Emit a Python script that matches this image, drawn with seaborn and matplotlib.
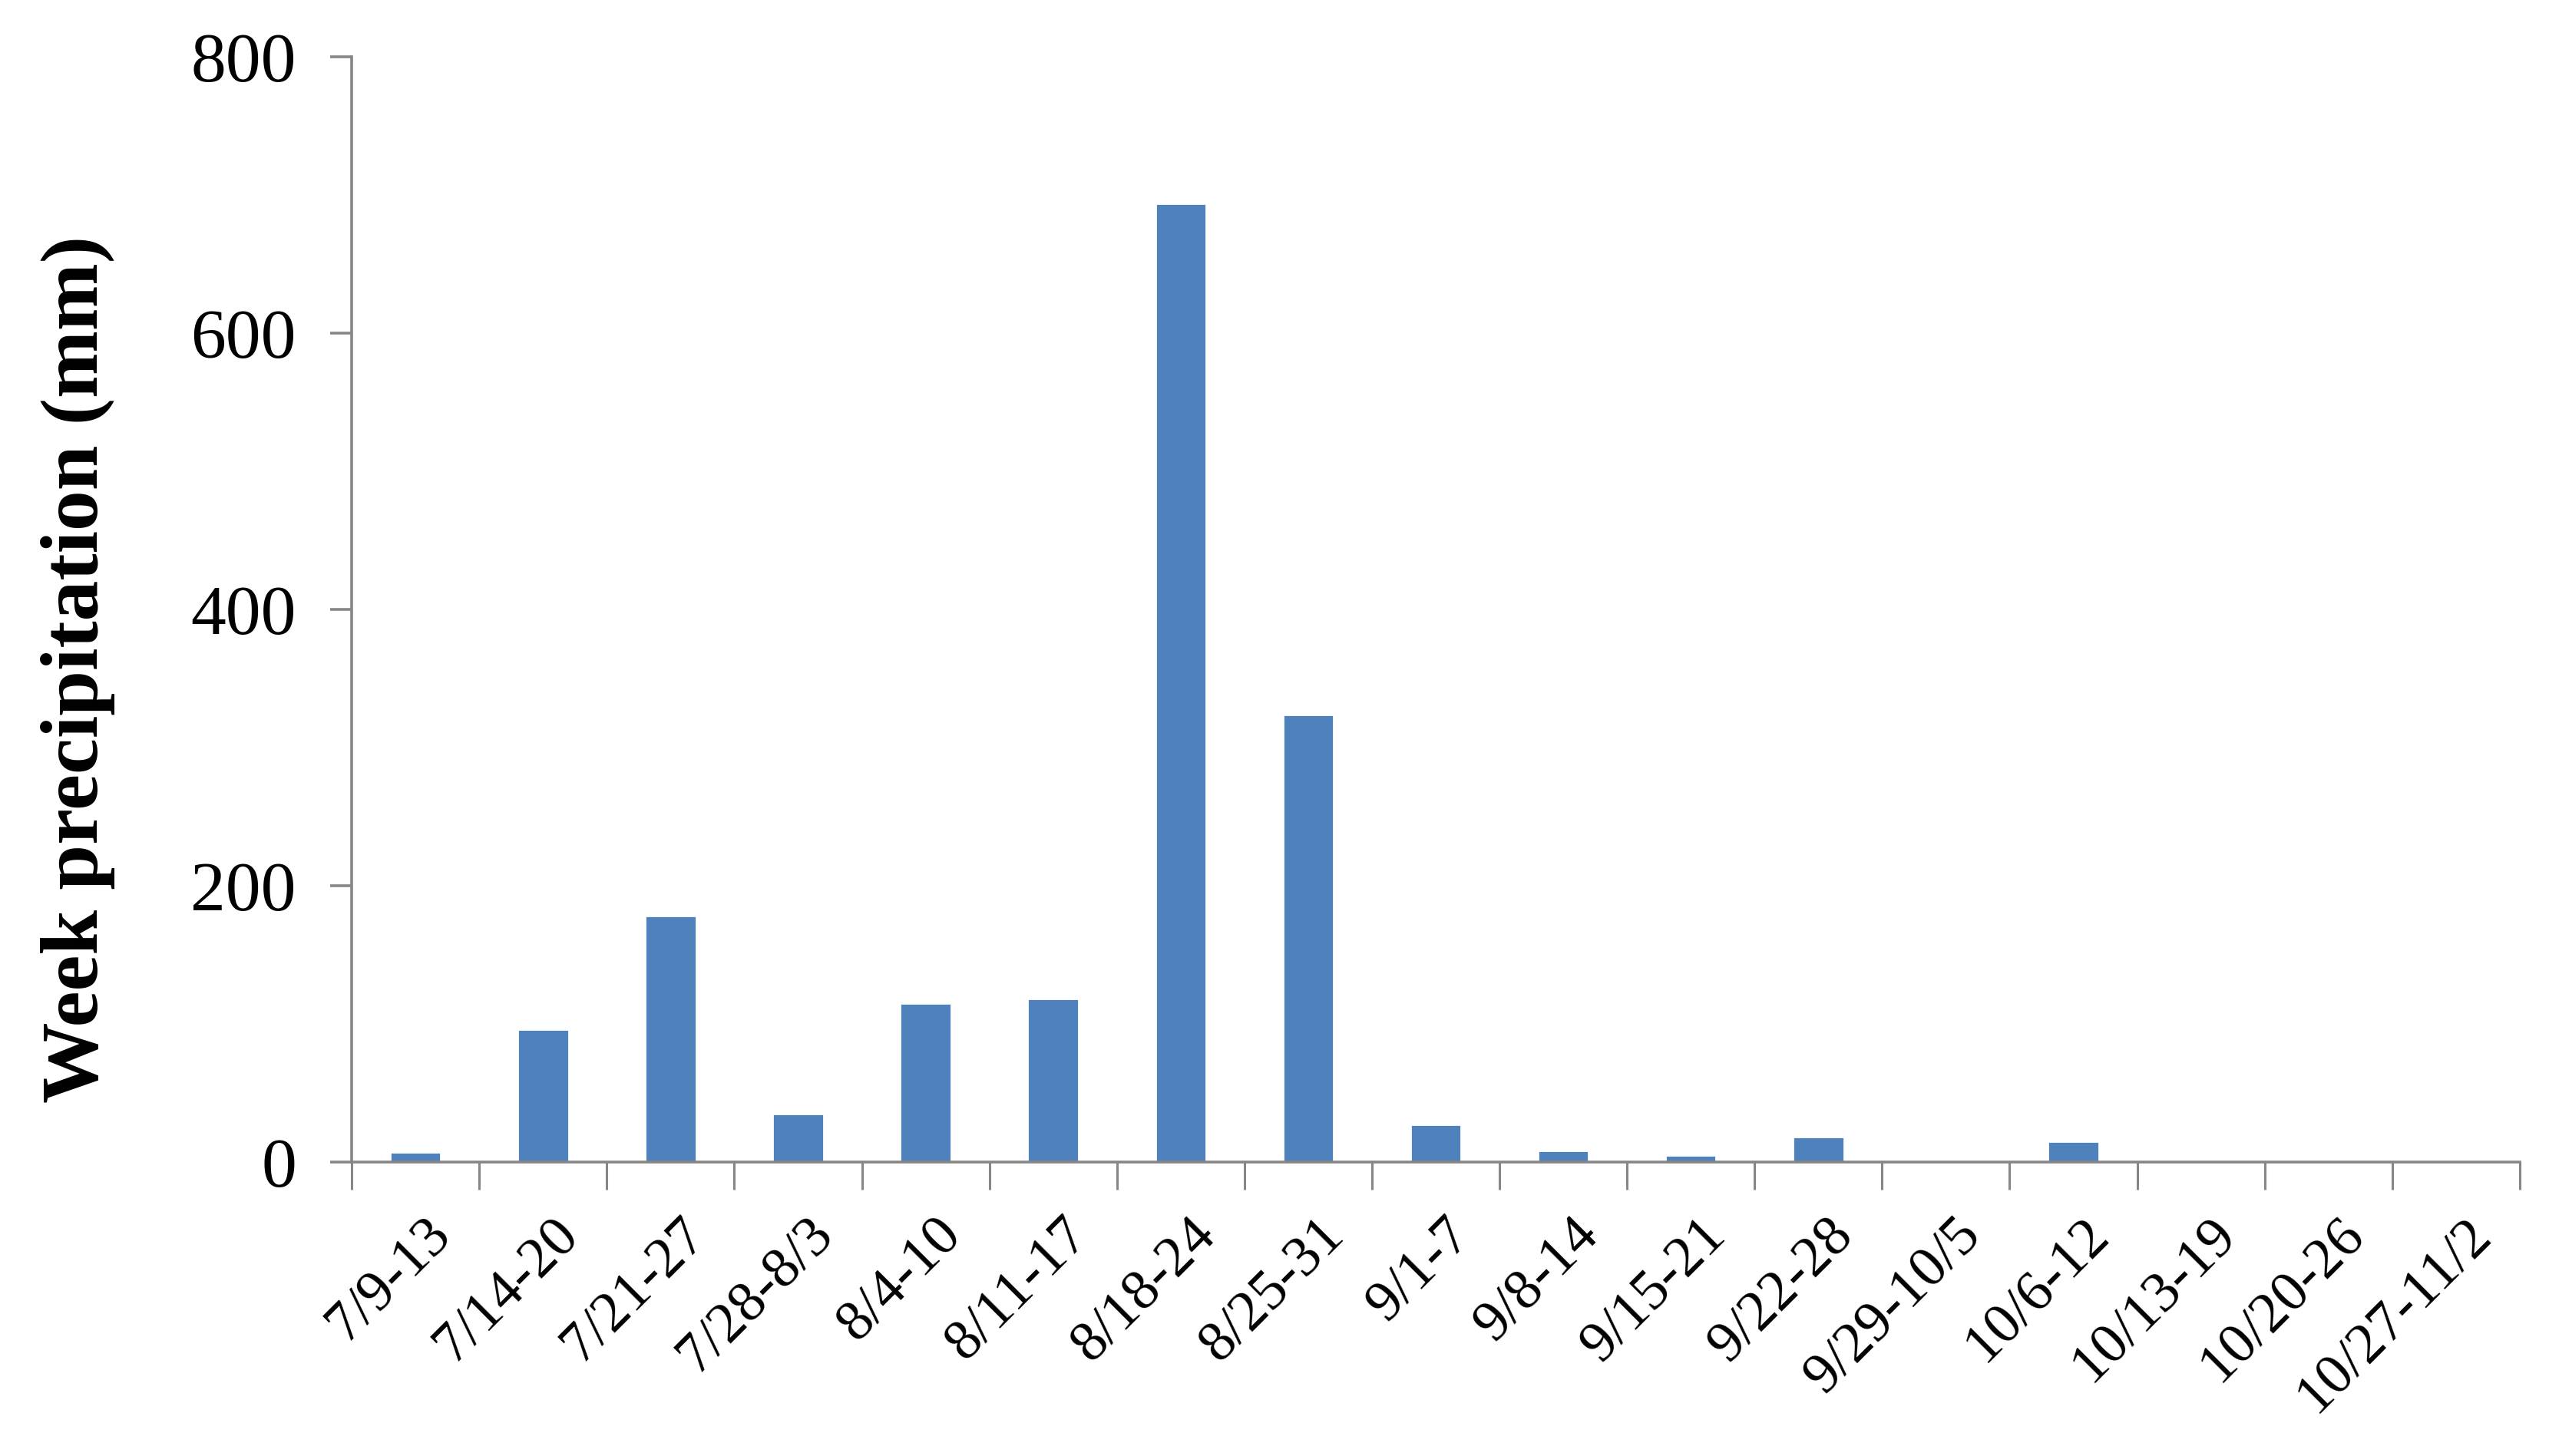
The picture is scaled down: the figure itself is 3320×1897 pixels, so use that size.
import numpy as np
import matplotlib
matplotlib.use("Agg")
import matplotlib.pyplot as plt
import matplotlib.transforms as mtransforms
import seaborn as sns

# weekly precipitation
weeks = ['7/9-13', '7/14-20', '7/21-27', '7/28-8/3', '8/4-10', '8/11-17',
         '8/18-24', '8/25-31', '9/1-7', '9/8-14', '9/15-21', '9/22-28',
         '9/29-10/5', '10/6-12', '10/13-19', '10/20-26', '10/27-11/2']
precip = [7, 96, 178, 35, 115, 118, 694, 324, 27, 8, 5, 18, 0, 15, 0, 0, 0]
yticks = [0, 200, 400, 600, 800]

sns.set_theme(style='white')
plt.rcParams['font.family'] = ['Liberation Serif', 'DejaVu Serif']

fig = plt.figure(figsize=(16.6, 9.485), dpi=200)
ax = fig.add_axes([0.138, 0.202, 0.8505, 0.759])

sns.barplot(x=weeks, y=precip, color='#4F81BD', saturation=1, width=0.4, ax=ax)

axis_grey = '#868686'
for s in ['top', 'right']:
    ax.spines[s].set_visible(False)
for s in ['left', 'bottom']:
    ax.spines[s].set_color(axis_grey)
    ax.spines[s].set_linewidth(1.3)

ax.set_xlim(-0.5, len(weeks) - 0.5)
ax.set_ylim(0, 800)
ax.set_yticks(yticks)
ax.set_yticklabels([str(v) for v in yticks], fontsize=33, color='black')
ax.tick_params(axis='y', direction='out', length=10, width=1.3, color=axis_grey,
               pad=16, left=True)

# category labels at centres, tick marks at the boundaries
ax.set_xticks(np.arange(len(weeks)))
ax.set_xticklabels(weeks, fontsize=27, rotation=45, ha='right',
                   rotation_mode='anchor', color='black')
ax.tick_params(axis='x', which='major', length=0, pad=22)
shift = mtransforms.ScaledTranslation(0.06, 0, fig.dpi_scale_trans)
for lab in ax.get_xticklabels():
    lab.set_transform(lab.get_transform() + shift)
ax.set_xticks(np.arange(len(weeks) + 1) - 0.5, minor=True)
ax.tick_params(axis='x', which='minor', direction='out', length=13, width=1.1,
               color=axis_grey, bottom=True)

ax.set_xlabel('')
ax.set_ylabel('Week precipitation (mm)', fontsize=38, fontweight='bold',
              color='black')
ax.yaxis.set_label_coords(-0.109, 0.446)

fig.savefig('out.png', dpi=200)
